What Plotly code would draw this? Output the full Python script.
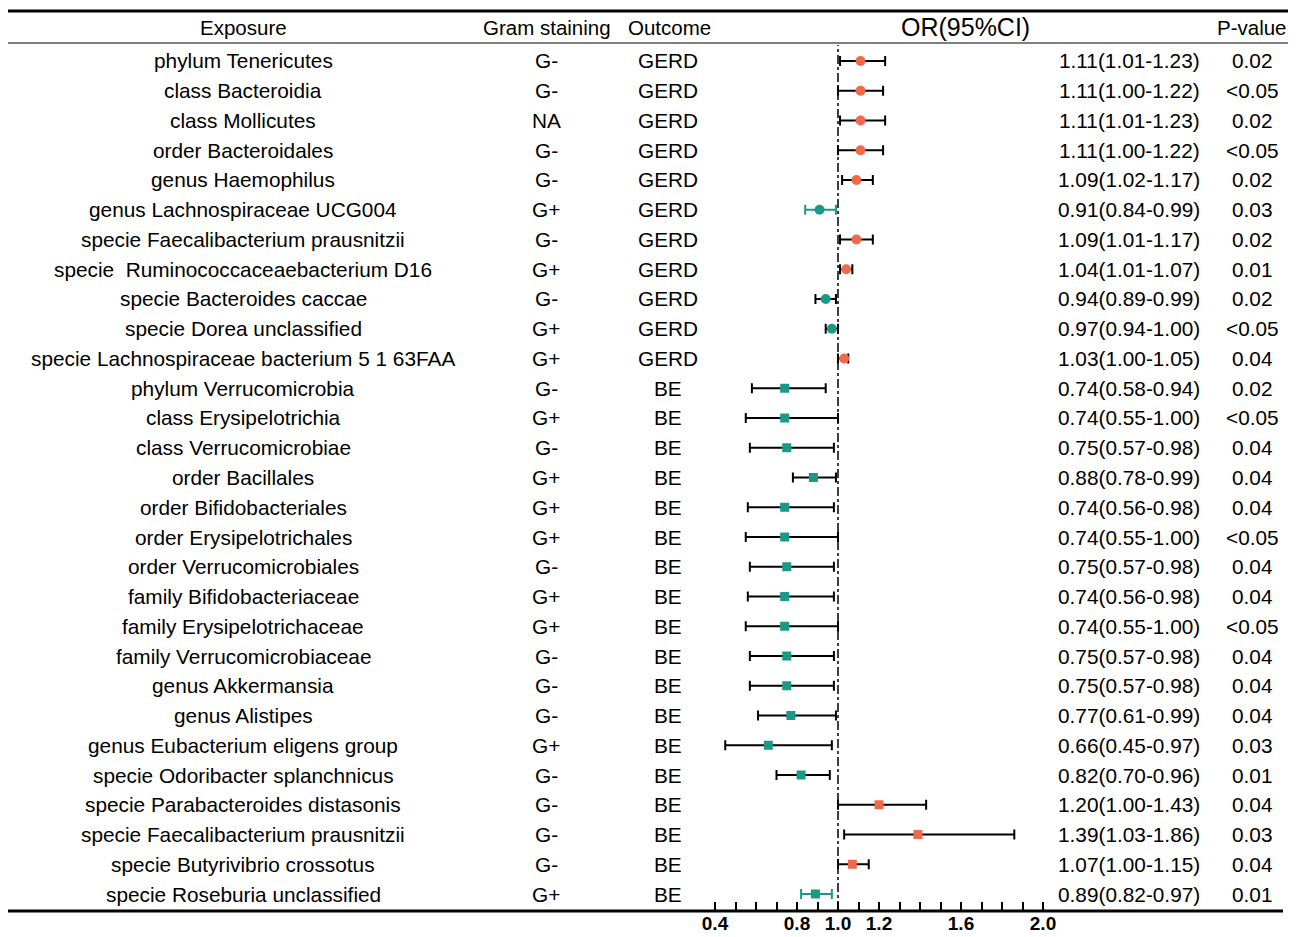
import plotly.graph_objects as go

exposures = [
    "phylum Tenericutes", "class Bacteroidia", "class Mollicutes", "order Bacteroidales",
    "genus Haemophilus", "genus Lachnospiraceae UCG004", "specie Faecalibacterium prausnitzii",
    "specie  Ruminococcaceaebacterium D16", "specie Bacteroides caccae", "specie Dorea unclassified",
    "specie Lachnospiraceae bacterium 5 1 63FAA", "phylum Verrucomicrobia", "class Erysipelotrichia",
    "class Verrucomicrobiae", "order Bacillales", "order Bifidobacteriales", "order Erysipelotrichales",
    "order Verrucomicrobiales", "family Bifidobacteriaceae", "family Erysipelotrichaceae",
    "family Verrucomicrobiaceae", "genus Akkermansia", "genus Alistipes",
    "genus Eubacterium eligens group", "specie Odoribacter splanchnicus",
    "specie Parabacteroides distasonis", "specie Faecalibacterium prausnitzii",
    "specie Butyrivibrio crossotus", "specie Roseburia unclassified",
]
gram = ["G-", "G-", "NA", "G-", "G-", "G+", "G-", "G+", "G-", "G+", "G+",
        "G-", "G+", "G-", "G+", "G+", "G+", "G-", "G+", "G+", "G-", "G-", "G-", "G+", "G-",
        "G-", "G-", "G-", "G+"]
outcome = ["GERD"] * 11 + ["BE"] * 18
or_val = [1.11, 1.11, 1.11, 1.11, 1.09, 0.91, 1.09, 1.04, 0.94, 0.97, 1.03,
          0.74, 0.74, 0.75, 0.88, 0.74, 0.74, 0.75, 0.74, 0.74, 0.75, 0.75, 0.77, 0.66, 0.82,
          1.20, 1.39, 1.07, 0.89]
ci_low = [1.01, 1.00, 1.01, 1.00, 1.02, 0.84, 1.01, 1.01, 0.89, 0.94, 1.00,
          0.58, 0.55, 0.57, 0.78, 0.56, 0.55, 0.57, 0.56, 0.55, 0.57, 0.57, 0.61, 0.45, 0.70,
          1.00, 1.03, 1.00, 0.82]
ci_high = [1.23, 1.22, 1.23, 1.22, 1.17, 0.99, 1.17, 1.07, 0.99, 1.00, 1.05,
           0.94, 1.00, 0.98, 0.99, 0.98, 1.00, 0.98, 0.98, 1.00, 0.98, 0.98, 0.99, 0.97, 0.96,
           1.43, 1.86, 1.15, 0.97]
p_values = ["0.02", "<0.05", "0.02", "<0.05", "0.02", "0.03", "0.02", "0.01", "0.02", "<0.05", "0.04",
            "0.02", "<0.05", "0.04", "0.04", "0.04", "<0.05", "0.04", "0.04", "<0.05", "0.04", "0.04",
            "0.04", "0.03", "0.01", "0.04", "0.03", "0.04", "0.01"]
headers = ["Exposure", "Gram staining", "Outcome", "OR(95%CI)", "P-value"]
tick_vals = [round(0.4 + 0.1 * i, 1) for i in range(17)]
tick_labels = ["0.4", "0.8", "1.0", "1.2", "1.6", "2.0"]

W, H = 1296, 937
OFF = 8  # page offset of the plot inside the browser
ORANGE = "#EE6A48"
TEAL = "#1A9A86"
FONT = "Liberation Sans, Arial, sans-serif"
teal_bar_rows = {5, 28}

def px(x):
    return (x - OFF) / W

def py(y):
    return 1 - (y - OFF) / H

n = len(exposures)
row_top_px, row_bot_px = 61, 894
step = (row_bot_px - row_top_px) / (n - 1)
y_top_px, y_bot_px = 45, 910
y_range = [(n - 1) + (y_bot_px - row_bot_px) / step, -(row_top_px - y_top_px) / step]

fig = go.Figure()
for i in range(n):
    color = ORANGE if or_val[i] > 1 else TEAL
    symbol = "circle" if outcome[i] == "GERD" else "square"
    bar_color = TEAL if i in teal_bar_rows else "black"
    fig.add_trace(go.Scatter(
        x=[or_val[i]], y=[i], mode="markers",
        marker=dict(color=color, size=10 if symbol == "circle" else 9, symbol=symbol),
        error_x=dict(type="data", symmetric=False,
                     array=[ci_high[i] - or_val[i]], arrayminus=[or_val[i] - ci_low[i]],
                     color=bar_color, thickness=2, width=5),
        showlegend=False, hoverinfo="skip",
    ))

fig.add_shape(type="line", xref="x", yref="paper", x0=1, x1=1,
              y0=py(y_bot_px), y1=py(y_top_px),
              line=dict(color="black", width=1.5, dash="dashdot"))

# horizontal rules
fig.add_shape(type="line", xref="paper", yref="paper", x0=px(8), x1=px(1304),
              y0=py(11), y1=py(11), line=dict(color="black", width=3))
fig.add_shape(type="line", xref="paper", yref="paper", x0=px(8), x1=px(1304),
              y0=py(43), y1=py(43), line=dict(color="#555555", width=1.5))
fig.add_shape(type="line", xref="paper", yref="paper", x0=px(8), x1=px(1283),
              y0=py(911), y1=py(911), line=dict(color="black", width=3))

col_x = [243, 546, 668, 1129, 1252]
header_x = [243, 547, 669, 965, 1252]
for hx, htxt in zip(header_x, headers):
    fig.add_annotation(x=px(hx), y=py(27), xref="paper", yref="paper", text=htxt,
                       showarrow=False, xanchor="center", yanchor="middle",
                       font=dict(family=FONT, size=25 if htxt == "OR(95%CI)" else 20.5, color="black"))

for i in range(n):
    or_txt = f"{or_val[i]:.2f}({ci_low[i]:.2f}-{ci_high[i]:.2f})"
    cells = [exposures[i].replace("  ", "&nbsp; "), gram[i], outcome[i], or_txt, p_values[i]]
    for cx, ct in zip(col_x, cells):
        fig.add_annotation(x=px(cx), y=i, xref="paper", yref="y", text=ct,
                           showarrow=False, xanchor="center", yanchor="middle",
                           font=dict(family=FONT, size=20.8, color="black"))

# x axis: 0.4 at pixel 715, 2.0 at pixel 1043
ppu = (1043 - 715) / 1.6
x0_px, x1_px = 705, 1053
x_range = [0.4 - (715 - x0_px) / ppu, 2.0 + (x1_px - 1043) / ppu]
fig.update_layout(
    template="none",
    width=W, height=H, margin=dict(l=0, r=0, t=0, b=0, pad=0, autoexpand=False),
    plot_bgcolor="white", paper_bgcolor="white",
    xaxis=dict(domain=[px(x0_px), px(x1_px)], range=x_range, automargin=False,
               tickvals=tick_vals,
               ticktext=[f"{v:.1f}" if f"{v:.1f}" in tick_labels else "" for v in tick_vals],
               ticks="inside", ticklen=8, tickwidth=1.5, tickcolor="black",
               showline=False, showgrid=False, zeroline=False,
               tickfont=dict(family=FONT, size=19, color="black", weight="bold")),
    yaxis=dict(domain=[py(y_bot_px), py(y_top_px)], range=y_range, automargin=False,
               showticklabels=False, showgrid=False, zeroline=False, showline=False, ticks=""),
)

fig.write_html("out.html")
